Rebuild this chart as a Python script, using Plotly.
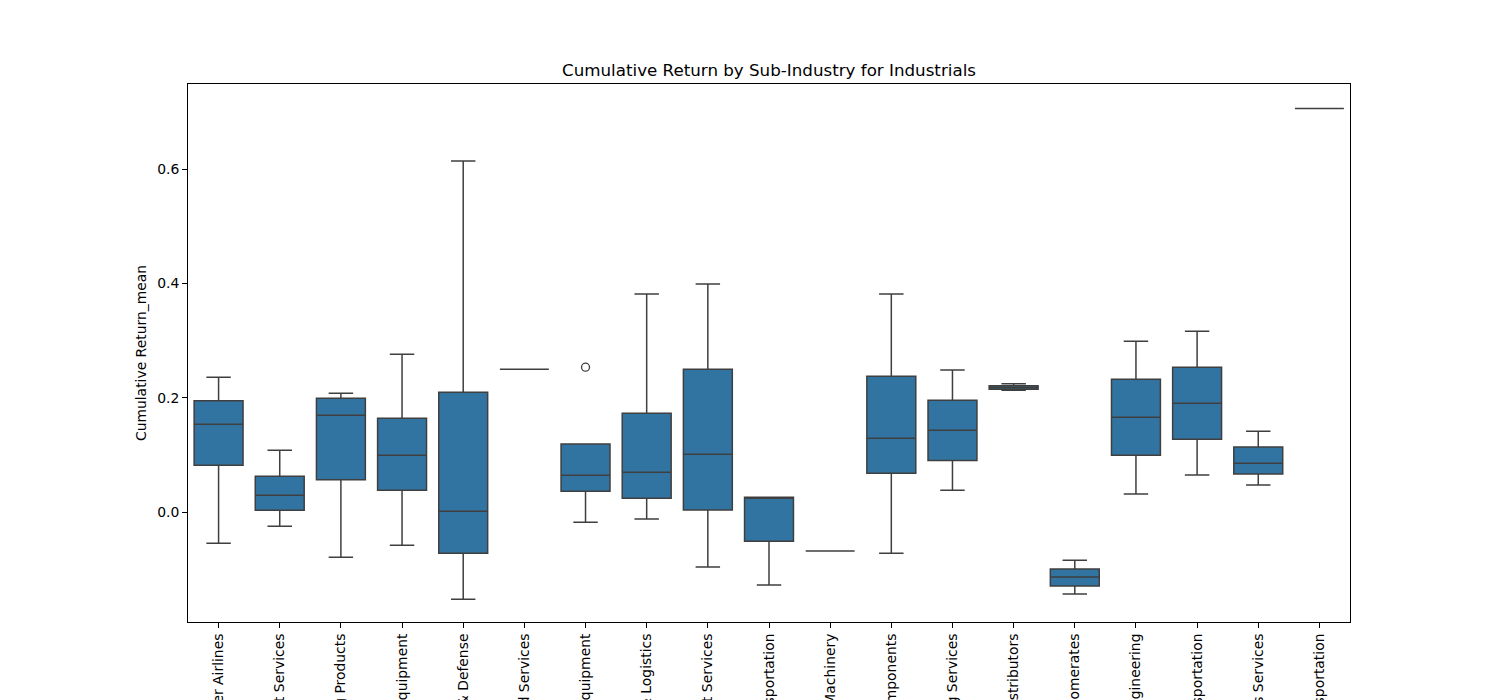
import plotly.graph_objects as go

categories = [
    "Passenger Airlines",
    "Diversified Support Services",
    "Building Products",
    "Electrical Components & Equipment",
    "Aerospace & Defense",
    "Data Processing & Outsourced Services",
    "Construction Machinery & Heavy Transportation Equipment",
    "Air Freight & Logistics",
    "Human Resource & Employment Services",
    "Cargo Ground Transportation",
    "Agricultural & Farm Machinery",
    "Industrial Machinery & Supplies & Components",
    "Research & Consulting Services",
    "Trading Companies & Distributors",
    "Industrial Conglomerates",
    "Construction & Engineering",
    "Rail Transportation",
    "Environmental & Facilities Services",
    "Passenger Ground Transportation",
]

lower_whisker = [-0.0538, -0.0241, -0.0783, -0.0573, -0.1517, 0.2503, -0.0171, -0.0114, -0.0953, -0.1267,
                 -0.0673, -0.0713, 0.0388, 0.2136, -0.1425, 0.0323, 0.0656, 0.0481, 0.706]
q1_values = [0.0825, 0.0038, 0.0573, 0.0388, -0.0713, 0.2503, 0.0370, 0.0248, 0.0044, -0.0503,
             -0.0673, 0.0685, 0.0906, 0.2154, -0.1285, 0.1000, 0.1280, 0.0673, 0.706]
median_values = [0.1540, 0.0301, 0.1700, 0.1000, 0.0021, 0.2503, 0.0650, 0.0703, 0.1017, 0.0266,
                 -0.0673, 0.1297, 0.1437, 0.2182, -0.1128, 0.1664, 0.1909, 0.0860, 0.706]
q3_values = [0.1950, 0.0633, 0.1997, 0.1647, 0.2101, 0.2503, 0.1198, 0.1734, 0.2503, 0.0266,
             -0.0673, 0.2381, 0.1962, 0.2212, -0.0990, 0.2329, 0.2538, 0.1145, 0.706]
upper_whisker = [0.2364, 0.1087, 0.2084, 0.2766, 0.6140, 0.2503, 0.1198, 0.3815, 0.3990, 0.0266,
                 -0.0673, 0.3815, 0.2491, 0.2247, -0.0834, 0.2993, 0.3168, 0.1420, 0.706]

outlier_categories = ["Construction Machinery & Heavy Transportation Equipment"]
outlier_values = [0.2538]

y_title = "Cumulative Return_mean"
chart_title = "Cumulative Return by Sub-Industry for Industrials"

FONT = "DejaVu Sans"
LINE = "#3f3f3f"
FILL = "#3274a1"

fig = go.Figure()
fig.add_trace(go.Box(
    x=categories,
    q1=q1_values,
    median=median_values,
    q3=q3_values,
    lowerfence=lower_whisker,
    upperfence=upper_whisker,
    boxpoints=False,
    fillcolor=FILL,
    line=dict(color=LINE, width=1.5),
    width=0.8,
    whiskerwidth=0.5,
    showlegend=False,
    hoverinfo="skip",
))
fig.add_trace(go.Scatter(
    x=outlier_categories,
    y=outlier_values,
    mode="markers",
    marker=dict(symbol="circle-open", size=8, color=LINE, line=dict(width=1.3, color=LINE)),
    showlegend=False,
    hoverinfo="skip",
))

fig.update_layout(
    template="none",
    width=1500,
    height=700,
    margin=dict(l=180, r=158, t=76, b=86),
    paper_bgcolor="white",
    plot_bgcolor="white",
    font=dict(family=FONT, size=13.9, color="black"),
    title=dict(text=chart_title, x=761 / 1500, xanchor="center", xref="container",
               y=1 - 62 / 700, yanchor="middle", yref="container",
               font=dict(family=FONT, size=16.7, color="black")),
    showlegend=False,
)
fig.update_xaxes(
    type="category",
    categoryorder="array",
    categoryarray=categories,
    range=[-0.5, len(categories) - 0.5],
    tickangle=-90,
    ticks="outside",
    ticklen=5,
    tickwidth=1,
    tickcolor="black",
    showline=True,
    linecolor="black",
    linewidth=1,
    mirror=True,
    showgrid=False,
    zeroline=False,
    automargin=False,
    tickfont=dict(family=FONT, size=13.9, color="black"),
)
fig.update_yaxes(
    range=[-0.1914, 0.7486],
    tickvals=[0.0, 0.2, 0.4, 0.6],
    ticktext=["0.0", "0.2", "0.4", "0.6"],
    ticks="outside",
    ticklen=5,
    tickwidth=1,
    tickcolor="black",
    showline=True,
    linecolor="black",
    linewidth=1,
    mirror=True,
    showgrid=False,
    zeroline=False,
    automargin=False,
    title=dict(text=y_title, standoff=7, font=dict(family=FONT, size=13.9, color="black")),
    tickfont=dict(family=FONT, size=13.9, color="black"),
)

fig.write_html("out.html")
